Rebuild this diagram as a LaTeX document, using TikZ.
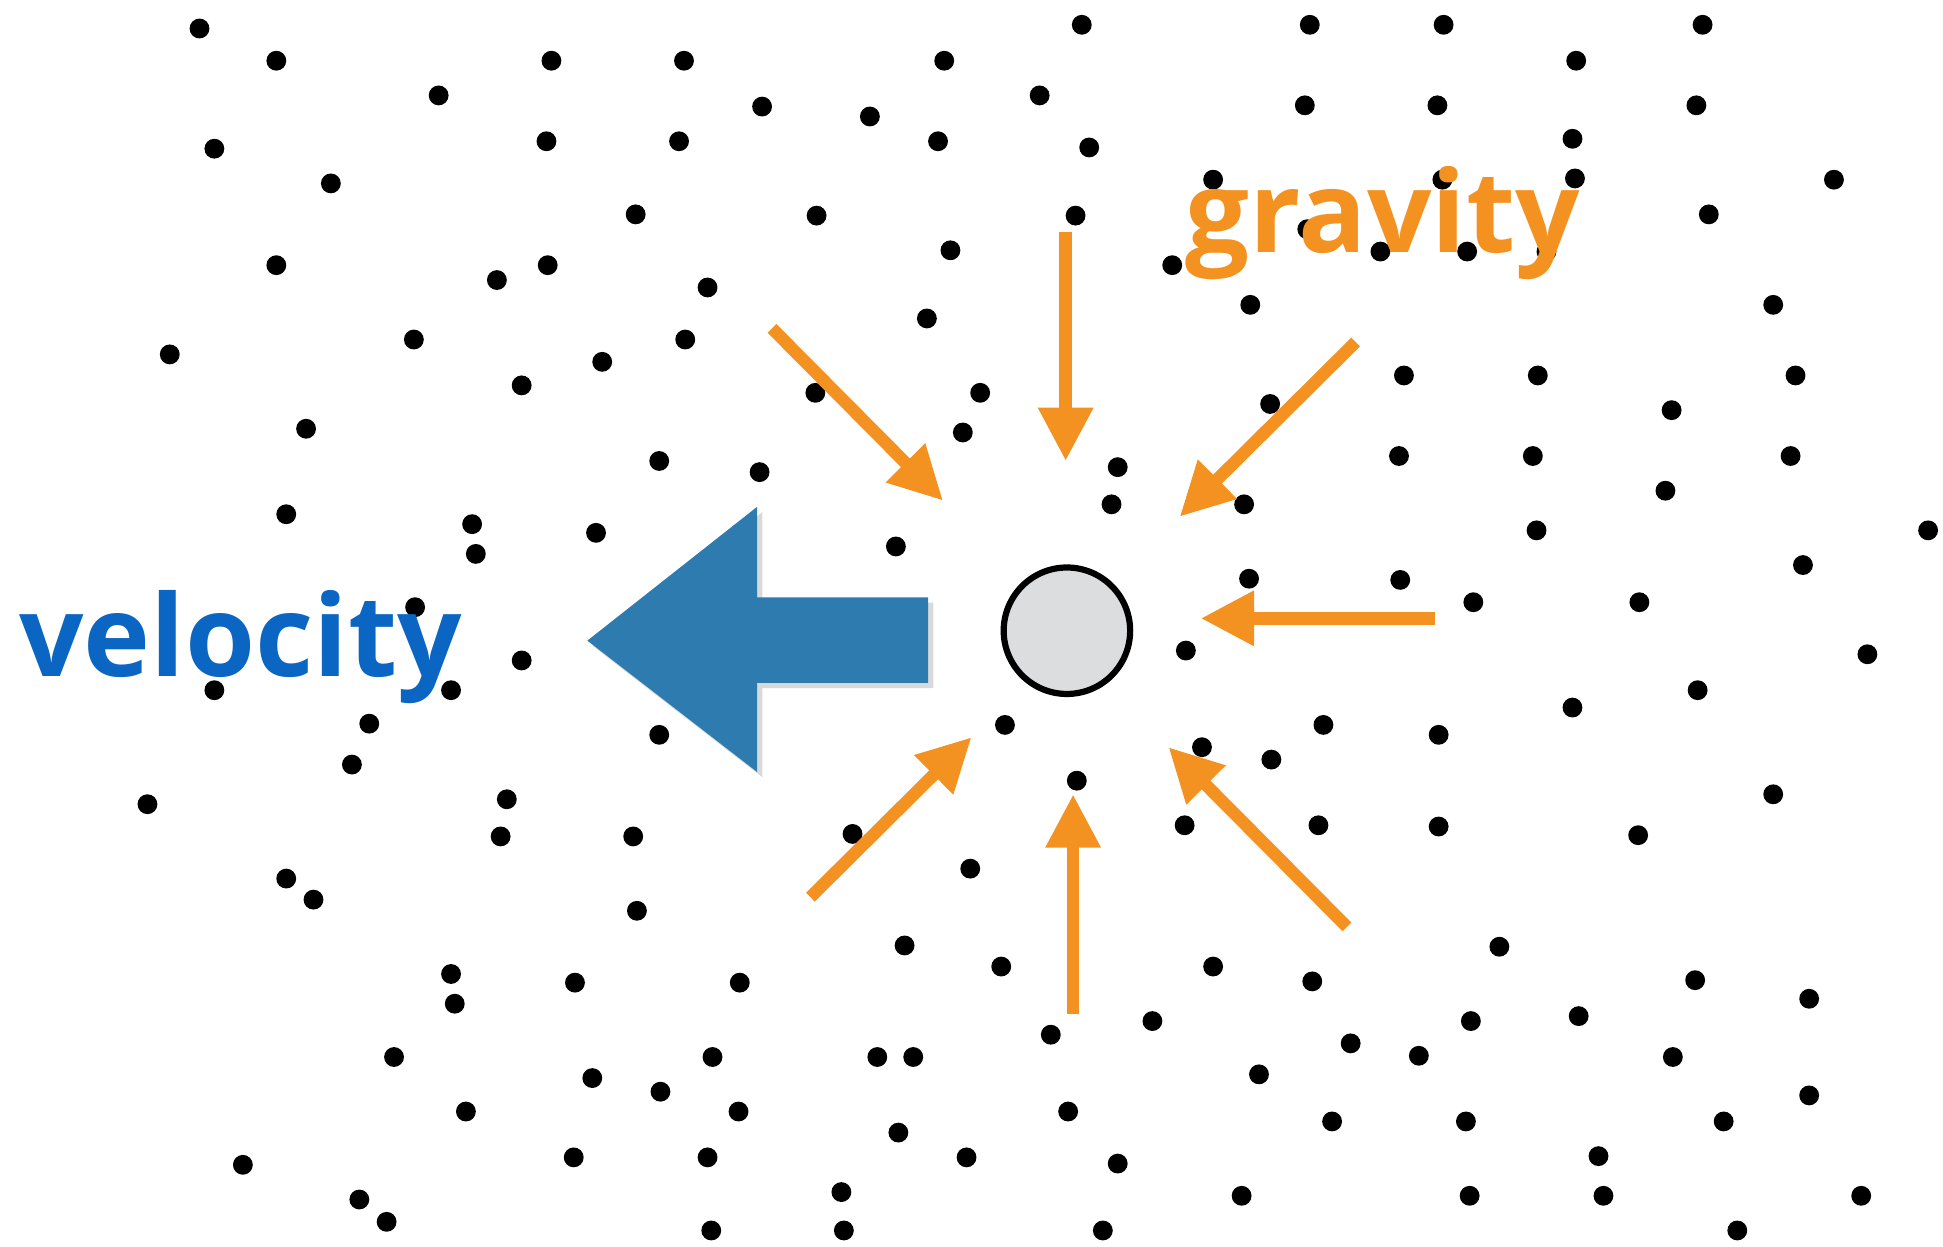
\documentclass[tikz,border=0pt]{standalone}
\usepackage{fontspec}
\newfontfamily\labelfont{Open Sans}
\usetikzlibrary{arrows.meta,shadows}
\definecolor{velblue}{HTML}{0A66C2}
\definecolor{gravorange}{HTML}{F39220}
\definecolor{arrowblue}{HTML}{2E7BB0}
\definecolor{bodygray}{HTML}{DCDDDF}

\begin{document}
\begin{tikzpicture}[x=0.01cm, y=-0.01cm,
    pull/.style={gravorange, line width=0.1cm, -{Triangle[length=0.43cm, width=0.42cm]}},
    word/.style={anchor=base west, inner sep=0pt, font=\labelfont\bfseries\fontsize{26}{30}\selectfont}]
    \useasboundingbox (0,0) rectangle (1568,1006);

    % Particles
    \foreach \x/\y in {161/23, 223/49, 354/77, 445/49, 552/49, 615/86, 702/94, 762/49, 873/20, 839/77,
        879/119, 757/114, 548/114, 441/114, 173/120, 1057/20, 1165/20, 1053/85, 1160/85, 1272/49,
        1374/20, 1369/85, 1269/112,
        267/148, 513/173, 659/174, 868/174, 767/202, 223/214, 401/226, 442/214, 571/232, 748/257,
        979/145, 1164/145, 1271/144, 1480/145, 1379/173, 1055/185, 1114/203, 1184/203, 1248/203,
        946/214, 1009/246, 1431/246,
        137/286, 334/274, 553/274, 486/292, 421/311, 658/317, 791/317, 777/349, 247/346, 532/372,
        613/381, 902/377, 1025/326, 1133/303, 1241/303, 1449/303, 1349/331, 1129/368, 1237/368,
        1445/368, 1344/396,
        897/407, 1004/407, 231/415, 381/423, 384/447, 481/430, 723/441, 1240/428, 1556/428, 1130/468,
        1008/467, 1189/486, 1455/456, 1323/486, 1507/528, 335/490, 421/533, 957/525,
        173/557, 364/557, 298/584, 284/617, 532/593, 811/585, 1370/557, 1269/571, 1161/593, 1068/585,
        1026/613, 970/603, 869/630, 1431/641, 119/649, 409/645,
        404/675, 511/675, 688/673, 956/666, 1064/666, 1161/667, 1322/674, 231/709, 253/726, 514/735,
        783/701, 1210/764, 979/780, 1059/792, 1368/791, 808/780, 730/763, 464/793, 597/793, 364/786,
        1460/806, 1274/820, 1187/824, 1090/842, 1145/852, 1350/853, 1016/867, 930/824, 848/835,
        862/897, 902/939, 1075/905, 1183/905, 1391/905, 1460/884, 1290/933, 1186/965, 1294/965,
        1502/965, 1402/993, 1002/965, 890/993, 780/934, 725/914, 708/853, 737/853, 679/962, 681/993,
        574/993, 571/934, 596/897, 575/853, 533/881, 478/870, 463/934, 367/810, 318/853, 376/897,
        196/940, 290/968, 312/986}
        \fill (\x,\y) circle[radius=0.08cm];

    % Velocity arrow
    \fill[arrowblue, drop shadow={opacity=0.3, shadow xshift=1.2pt, shadow yshift=-1.2pt}]
        (474,517) -- (611,409) -- (611,482) -- (749,482) -- (749,551) -- (611,551) -- (611,623) -- cycle;

    % Body
    \node[circle, draw, line width=0.05cm, fill=bodygray, minimum size=1.02cm, inner sep=0pt] (body) at (861,509) {};

    % Gravity arrows
    \foreach \name/\sx/\sy/\ex/\ey in {n/860/187/860/372, nw/623/265/761/404, ne/1094/276/952/417,
        e/1158/499/969/499, sw/654/724/784/595, s/866/818/866/641, se/1087/748/943/603} {
        \coordinate (\name-from) at (\sx,\sy);
        \coordinate (\name-to) at (\ex,\ey);
        \draw[pull] (\name-from) -- (\name-to);
    }

    % Labels
    \node[word, velblue] (velocity) at (15,546) {velocity};
    \node[word, gravorange] (gravity) at (956,204) {gravity};
\end{tikzpicture}
\end{document}
